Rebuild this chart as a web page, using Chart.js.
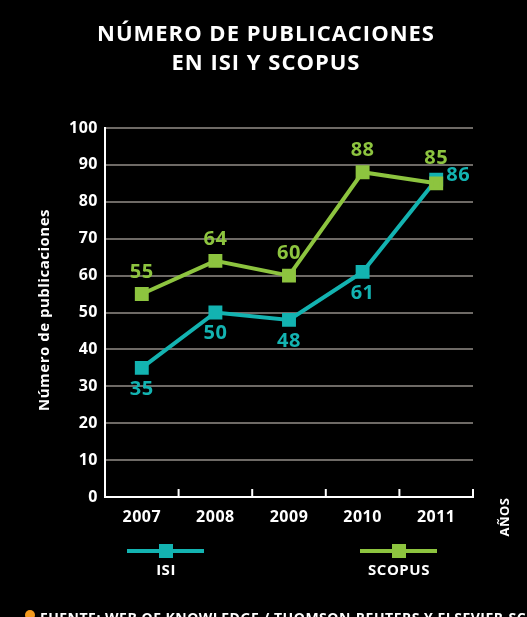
<!DOCTYPE html>
<html>
<head>
<meta charset="utf-8">
<script src="https://cdn.jsdelivr.net/npm/chart.js@4"></script>
<style>
  html, body { margin: 0; padding: 0; background: #000; }
  #wrap { width: 527px; height: 617px; position: relative; }
</style>
</head>
<body>
<div id="wrap"><canvas id="myChart" width="527" height="617"></canvas></div>
<script>
const years = ["2007", "2008", "2009", "2010", "2011"];
const isi = [35, 50, 48, 61, 86];
const scopus = [55, 64, 60, 88, 85];
const yTicks = [0, 10, 20, 30, 40, 50, 60, 70, 80, 90, 100];

const TEAL = "#13b3b1";
const GREEN = "#8dc43f";
const FONT = "'Open Sans', 'DejaVu Sans', sans-serif";

// a bit of tracking on all canvas text, like the original typeface
const spacing = {
  id: "spacing",
  beforeDraw(chart) { chart.ctx.letterSpacing = "0.5px"; },
};

// labels, legend, title and other text drawn on top of the chart
const extras = {
  id: "extras",
  afterDraw(chart) {
    const c = chart.ctx;
    const area = chart.chartArea;
    const x = chart.scales.x;
    c.save();

    // title
    c.fillStyle = "#fff";
    c.textAlign = "center";
    c.textBaseline = "middle";
    c.letterSpacing = "1px";
    c.font = "bold 22px " + FONT;
    c.fillText("NÚMERO DE PUBLICACIONES", 266, 35);
    c.fillText("EN ISI Y SCOPUS", 266, 64);
    c.letterSpacing = "0.5px";

    // tick marks on x axis, pointing up
    c.strokeStyle = "#fff";
    c.lineWidth = 2;
    const step = x.getPixelForValue(1) - x.getPixelForValue(0);
    for (let i = 0; i < years.length; i++) {
      const bx = x.getPixelForValue(i) + step / 2;
      c.beginPath();
      c.moveTo(bx, area.bottom);
      c.lineTo(bx, area.bottom - 8);
      c.stroke();
    }

    // value labels
    c.font = "bold 20px " + FONT;
    chart.getDatasetMeta(1).data.forEach((p, i) => {
      c.fillStyle = GREEN;
      c.fillText(String(scopus[i]), p.x, p.y - (i === scopus.length - 1 ? 25 : 22));
    });
    chart.getDatasetMeta(0).data.forEach((p, i) => {
      c.fillStyle = TEAL;
      if (i === isi.length - 1) {
        c.textAlign = "left";
        c.fillText(String(isi[i]), p.x + 10, p.y - 4);
        c.textAlign = "center";
      } else {
        c.fillText(String(isi[i]), p.x, p.y + 21);
      }
    });

    // y axis title
    c.fillStyle = "#fff";
    c.font = "bold 15px " + FONT;
    c.save();
    c.translate(45, 310);
    c.rotate(-Math.PI / 2);
    c.fillText("Número de publicaciones", 0, 0);
    c.restore();

    // x axis title
    c.font = "bold 13px " + FONT;
    c.save();
    c.translate(505, 517);
    c.rotate(-Math.PI / 2);
    c.fillText("AÑOS", 0, 0);
    c.restore();

    // legend
    const legend = [["ISI", TEAL, 166], ["SCOPUS", GREEN, 399]];
    legend.forEach(([name, col, cx]) => {
      c.strokeStyle = col;
      c.lineWidth = 4;
      c.beginPath();
      c.moveTo(cx - 39, 551);
      c.lineTo(cx + 38, 551);
      c.stroke();
      c.fillStyle = col;
      c.fillRect(cx - 7, 544, 14, 14);
      c.fillStyle = "#fff";
      c.font = "bold 15px " + FONT;
      c.fillText(name, cx, 571);
    });

    // source
    c.fillStyle = "#f39a1e";
    c.beginPath();
    c.arc(30, 615, 5, 0, Math.PI * 2);
    c.fill();
    c.fillStyle = "#fff";
    c.textAlign = "left";
    c.font = "bold 14px " + FONT;
    c.fillText("FUENTE: WEB OF KNOWLEDGE / THOMSON-REUTERS Y ELSEVIER-SCOPUS", 40, 619);

    c.restore();
  },
};

const ctx = document.getElementById("myChart").getContext("2d");
const myChart = new Chart(ctx, {
  type: "line",
  data: {
    labels: years,
    datasets: [
      {
        label: "ISI",
        data: isi,
        order: 1,
        borderColor: TEAL,
        backgroundColor: TEAL,
        borderWidth: 4,
        pointStyle: "rect",
        pointRadius: 7,
        pointHoverRadius: 7,
        tension: 0,
      },
      {
        label: "SCOPUS",
        data: scopus,
        order: 0,
        borderColor: GREEN,
        backgroundColor: GREEN,
        borderWidth: 4,
        pointStyle: "rect",
        pointRadius: 7,
        pointHoverRadius: 7,
        tension: 0,
      },
    ],
  },
  options: {
    responsive: false,
    animation: false,
    events: [],
    layout: { padding: { top: 128, left: 0, right: 54, bottom: 0 } },
    plugins: {
      legend: { display: false },
      tooltip: { enabled: false },
    },
    scales: {
      x: {
        offset: true,
        grid: { display: false },
        border: { color: "#fff", width: 2 },
        ticks: {
          color: "#fff",
          font: { family: FONT, size: 16, weight: "bold" },
          padding: 3,
          maxRotation: 0,
        },
        afterFit(scale) { scale.height = 120; },
      },
      y: {
        min: 0,
        max: 100,
        afterBuildTicks(scale) { scale.ticks = yTicks.map((v) => ({ value: v })); },
        grid: { color: "#6e6a66", lineWidth: 2, tickLength: 0 },
        border: { color: "#fff", width: 2 },
        ticks: {
          color: "#fff",
          font: { family: FONT, size: 16, weight: "bold" },
          padding: 7,
        },
        afterFit(scale) { scale.width = 105; },
      },
    },
  },
  plugins: [spacing, extras],
});
</script>
</body>
</html>
